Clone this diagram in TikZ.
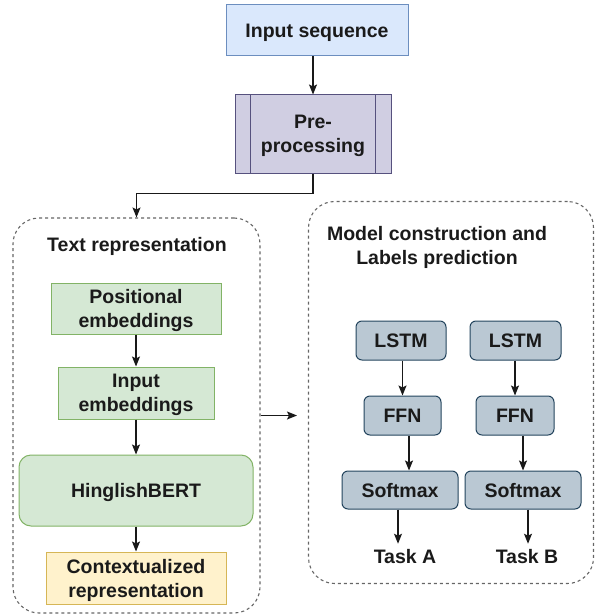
\documentclass[tikz,border=0pt]{standalone}
\usepackage{fontspec}
\setmainfont{Liberation Sans}
\usetikzlibrary{arrows.meta}

\definecolor{seqfill}{HTML}{DAE8FC}
\definecolor{seqline}{HTML}{6C8EBF}
\definecolor{prefill}{HTML}{D0CEE2}
\definecolor{preline}{HTML}{56517E}
\definecolor{embfill}{HTML}{D5E8D4}
\definecolor{embline}{HTML}{82B366}
\definecolor{ctxfill}{HTML}{FFF2CC}
\definecolor{ctxline}{HTML}{D6B656}
\definecolor{modfill}{HTML}{BAC8D3}
\definecolor{modline}{HTML}{23445D}
\definecolor{txtcol}{HTML}{1A1A1A}

\tikzset{
  lbl/.style={font=\fontsize{19.5}{24}\selectfont\bfseries, text=txtcol, align=center, text depth=0pt},
  box/.style={lbl, draw, line width=1pt, inner sep=0pt},
  group/.style={draw=black!60, line width=1.1pt, dash pattern=on 3pt off 3pt, rounded corners=26pt, inner sep=0pt},
  emb/.style={box, fill=embfill, draw=embline},
  layer/.style={box, fill=modfill, draw=modline, rounded corners=6pt, minimum height=39pt},
  arr/.style={line width=1.2pt, black!90, -{Stealth[length=10pt,width=8pt,inset=2pt]}}
}

\begin{document}
\begin{tikzpicture}[x=1pt, y=-1pt]
    \useasboundingbox (0,0) rectangle (595,615);

    % input and pre-processing
    \node[box, fill=seqfill, draw=seqline, minimum width=182pt, minimum height=51pt] (inseq) at (317,30.5) {Input sequence};
    \node[box, fill=prefill, draw=preline, minimum width=156pt, minimum height=78pt] (pre) at (313,134) {Pre-\\processing};
    \draw[preline, line width=1pt] ([xshift=16pt]pre.north west) -- ([xshift=16pt]pre.south west)
                                    ([xshift=-16pt]pre.north east) -- ([xshift=-16pt]pre.south east);
    \draw[arr] (inseq.south -| pre.north) -- (pre.north);

    % text representation
    \node[group, minimum width=247pt, minimum height=395pt] (txt) at (136.5,415.5) {};
    \node[lbl] (txttitle) at (137,244) {Text representation};
    \node[emb, minimum width=170pt, minimum height=51pt] (posemb) at (136,308.5) {Positional\\embeddings};
    \node[emb, minimum width=156pt, minimum height=52pt] (inemb) at (136,393) {Input\\embeddings};
    \node[emb, rounded corners=12pt, minimum width=234pt, minimum height=71pt] (bert) at (136,490.5) {HinglishBERT};
    \node[box, fill=ctxfill, draw=ctxline, minimum width=180pt, minimum height=52pt] (ctx) at (136,578) {Contextualized\\representation};

    \draw[arr] (pre.south) -- ++(0,20) -| (txt.north);
    \draw[arr] (posemb) -- (inemb);
    \draw[arr] (inemb) -- (bert);
    \draw[arr] (bert) -- (ctx);

    % model construction
    \node[group, minimum width=285pt, minimum height=382pt] (mod) at (451,392.5) {};
    \node[lbl] (modtitle) at (437,245) {Model construction and\\Labels prediction};
    \coordinate (out) at (297,415.5);
    \draw[arr] (txt.east) -- (out);

    \foreach \t/\lx/\lw/\fx/\fw/\sx/\ax/\tx/\kx in {A/401/90/402.5/77/400/409/398/405, B/515.5/91/515/78/523/523/528/527}
    {
        \node[layer, minimum width=\lw pt] (lstm\t) at (\lx,340.5) {LSTM};
        \node[layer, minimum width=\fw pt] (ffn\t) at (\fx,415.5) {FFN};
        \node[layer, minimum width=116pt, minimum height=38pt] (sm\t) at (\sx,490) {Softmax};
        \node[lbl, inner sep=5pt] (task\t) at (\kx,556) {Task \t};
        \coordinate (fa\t) at (\ax,0);
        \coordinate (ta\t) at (\tx,0);
        \draw[arr] (lstm\t.south -| ffn\t.north) -- (ffn\t.north);
        \draw[arr] (ffn\t.south -| fa\t) -- (sm\t.north -| fa\t);
        \draw[arr] (sm\t.south -| ta\t) -- (task\t.north -| ta\t);
    }
\end{tikzpicture}
\end{document}
